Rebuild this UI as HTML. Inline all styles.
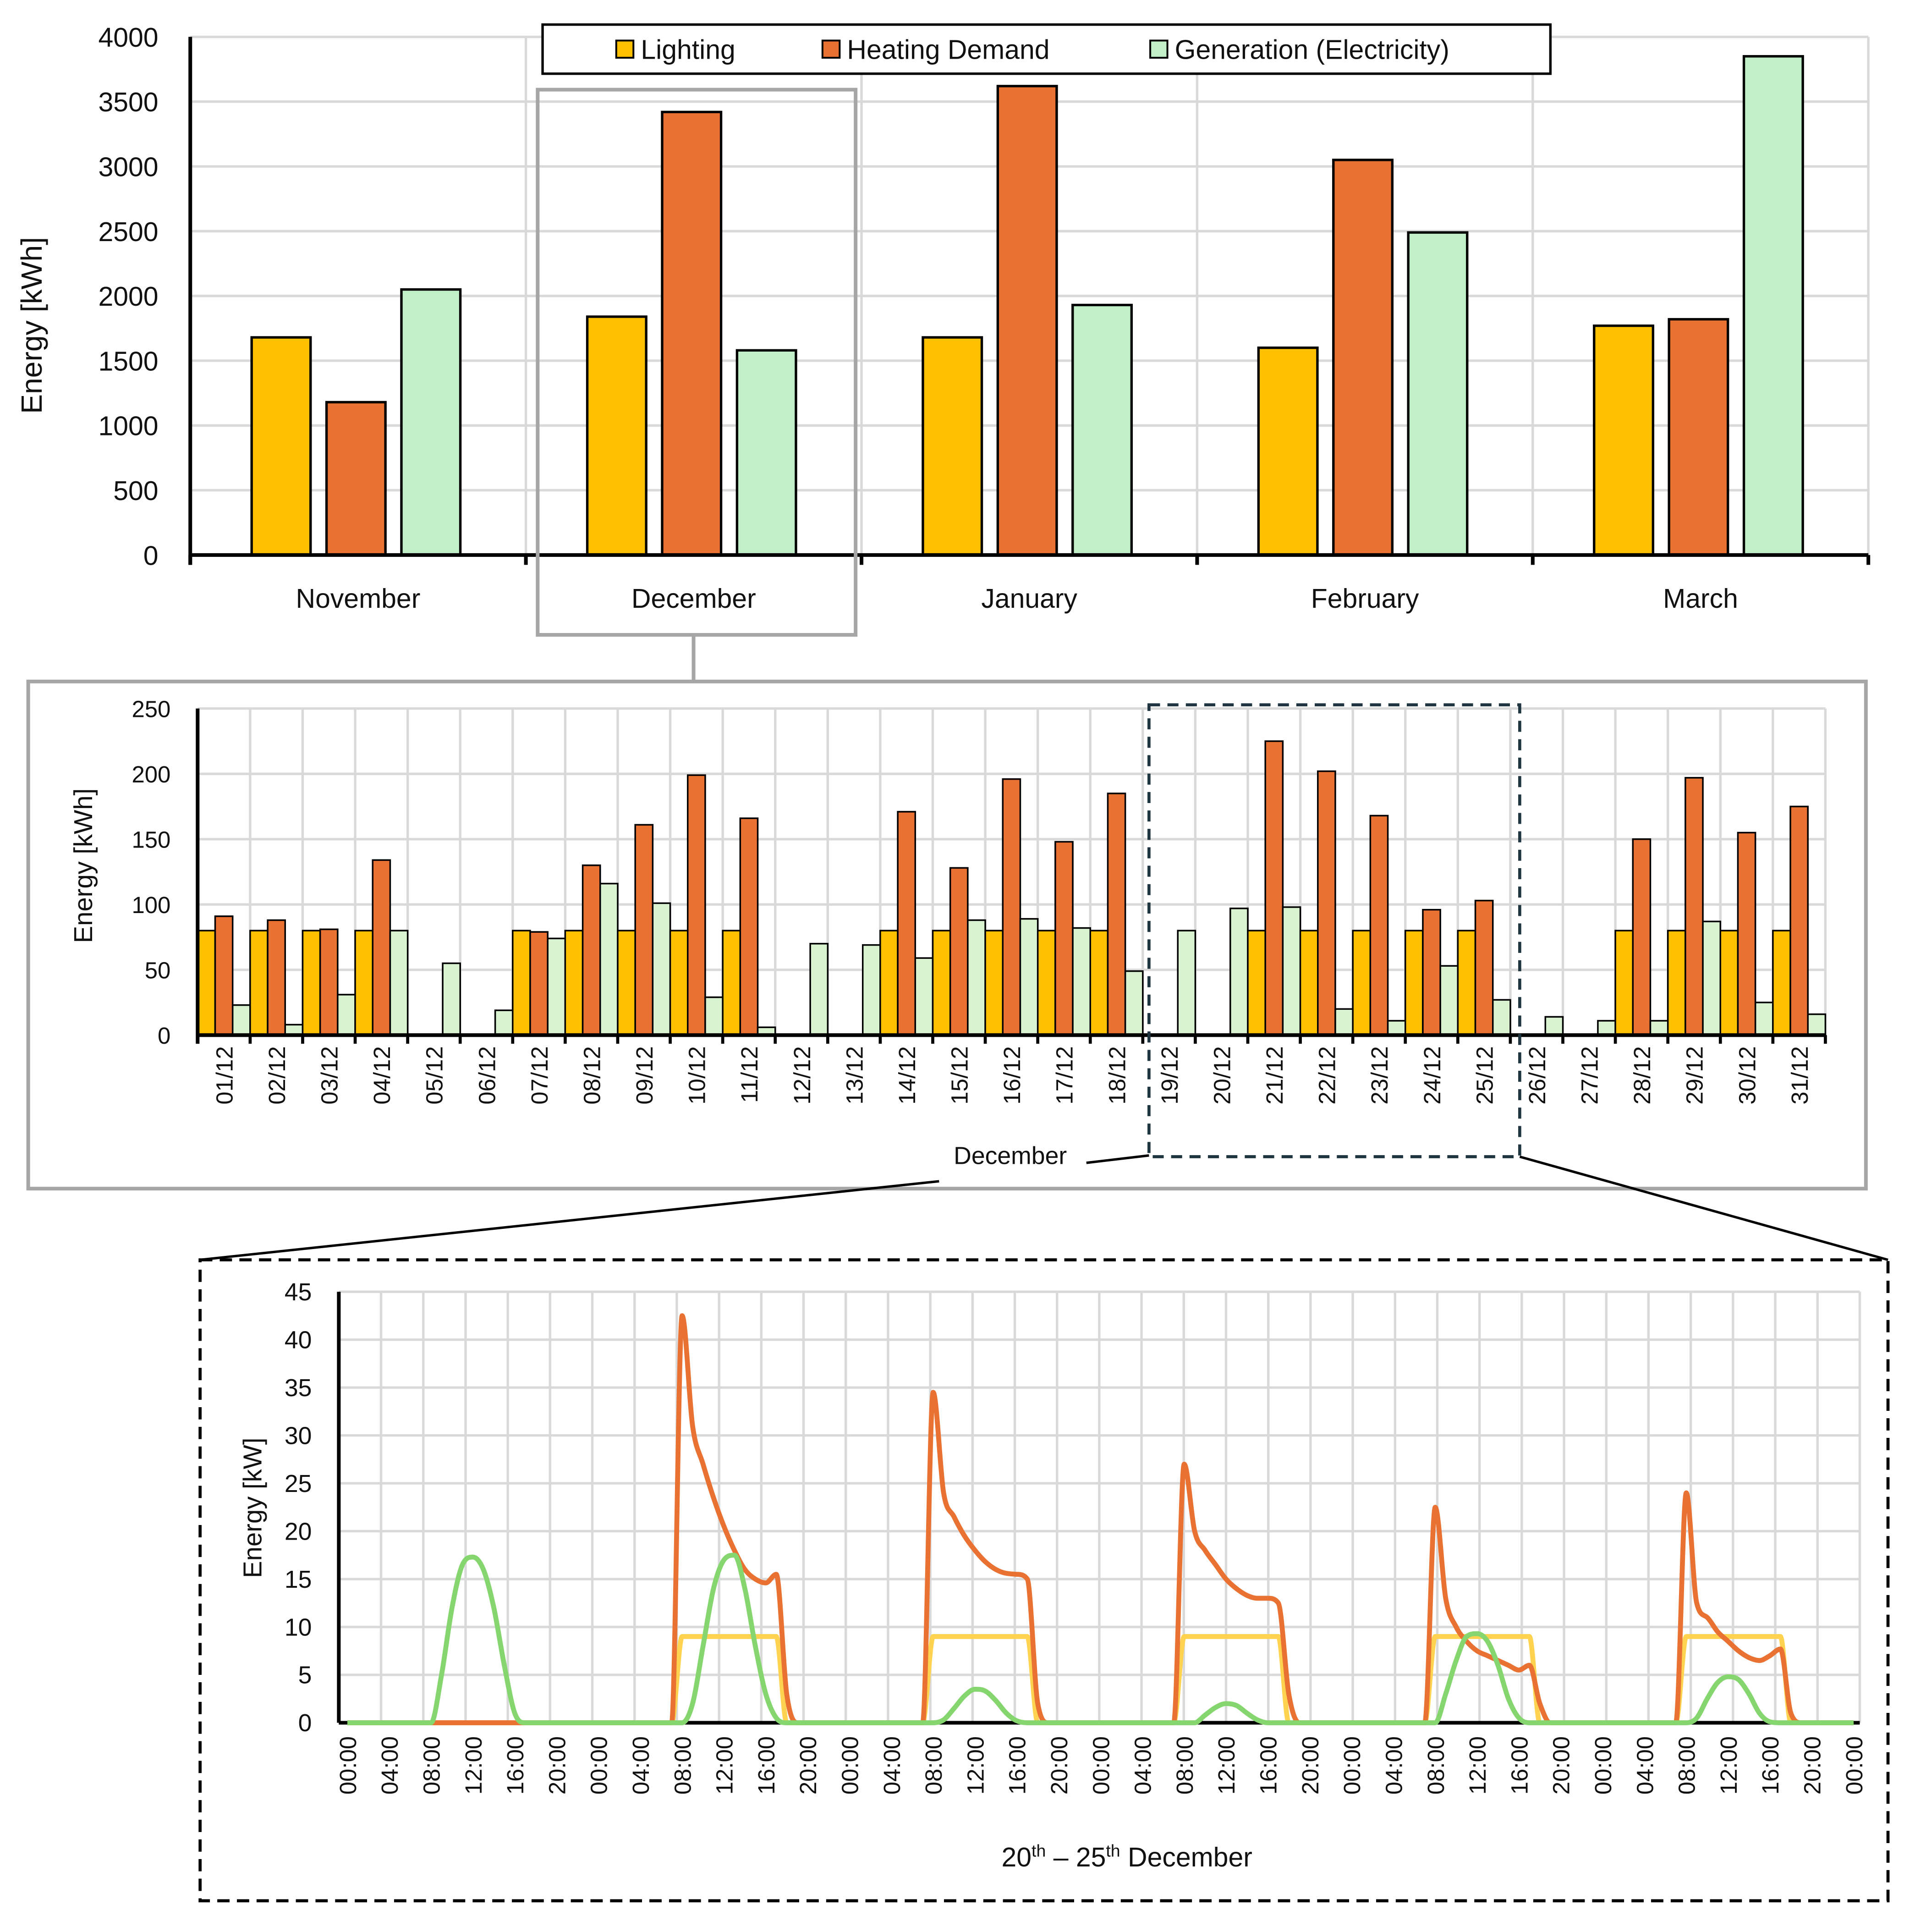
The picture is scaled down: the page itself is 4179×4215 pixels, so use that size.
<!DOCTYPE html>
<html><head><meta charset="utf-8"><style>
html,body{margin:0;padding:0;background:#fff;}
svg{display:block;font-family:"Liberation Sans",sans-serif;}
</style></head><body>
<svg id="s" width="4179" height="4215" viewBox="0 0 1560 1573.4" xmlns="http://www.w3.org/2000/svg"></svg>
<script>
// ---------- Top chart data ----------
const months = ["November","December","January","February","March"];
const monthLighting = [1680,1840,1680,1600,1770];
const monthHeating = [1180,3420,3620,3050,1820];
const monthGeneration = [2050,1580,1930,2490,3850];
const topTicks = [0,500,1000,1500,2000,2500,3000,3500,4000];
// ---------- Middle chart data ----------
const days = ["01/12","02/12","03/12","04/12","05/12","06/12","07/12","08/12","09/12","10/12","11/12","12/12","13/12","14/12","15/12","16/12","17/12","18/12","19/12","20/12","21/12","22/12","23/12","24/12","25/12","26/12","27/12","28/12","29/12","30/12","31/12"];
const dayLighting = [80,80,80,80,0,0,80,80,80,80,80,0,0,80,80,80,80,80,0,0,80,80,80,80,80,0,0,80,80,80,80];
const dayHeating = [91,88,81,134,0,0,79,130,161,199,166,0,0,171,128,196,148,185,0,0,225,202,168,96,103,0,0,150,197,155,175];
const dayGeneration = [23,8,31,80,55,19,74,116,101,29,6,70,69,59,88,89,82,49,80,97,98,20,11,53,27,14,11,11,87,25,16];
const midTicks = [0,50,100,150,200,250];
// ---------- Bottom chart data (hourly, 20th-25th) ----------
const hourLabels = ["00:00","04:00","08:00","12:00","16:00","20:00"];
const bottomTicks = [0,5,10,15,20,25,30,35,40,45];
const genDay1 = [0,0,0,0,0,0,0,0,0,5,12,16.5,17.3,16,12,6,1,0,0,0,0,0,0,0];
const genDay2 = [0,0,0,0,0,0,0,0,0,2,8,14,17,17.5,14,8,3,0.5,0,0,0,0,0,0];
const genDay3 = [0,0,0,0,0,0,0,0,0,0.3,1.5,2.8,3.5,3.3,2.3,1,0.2,0,0,0,0,0,0,0];
const genDay4 = [0,0,0,0,0,0,0,0,0,0,0.8,1.6,2,1.8,1,0.3,0,0,0,0,0,0,0,0];
const genDay5 = [0,0,0,0,0,0,0,0,0,3,6.5,9,9.3,8.5,6,2.5,0.5,0,0,0,0,0,0,0];
const genDay6 = [0,0,0,0,0,0,0,0,0,0.5,2.5,4.2,4.8,4.5,3,1,0.1,0,0,0,0,0,0,0];
const heatDay1 = [0,0,0,0,0,0,0,0,0,0,0,0,0,0,0,0,0,0,0,0,0,0,0,0];
const heatDay2 = [0,0,0,0,0,0,0,0,42.5,31,27,23.5,20.5,18,16,15,14.6,15.5,3,0,0,0,0,0];
const heatDay3 = [0,0,0,0,0,0,0,0,34.5,24,21.5,19.5,18,16.8,16,15.6,15.5,15,2,0,0,0,0,0];
const heatDay4 = [0,0,0,0,0,0,0,0,27,20,18,16.5,15,14,13.3,13,13,12.5,3,0,0,0,0,0];
const heatDay5 = [0,0,0,0,0,0,0,0,22.5,13,10,8.5,7.5,7,6.5,6,5.5,6,2,0,0,0,0,0];
const heatDay6 = [0,0,0,0,0,0,0,0,24,12.5,11,9.5,8.5,7.5,6.8,6.5,7,7.7,1,0,0,0,0,0];
const lightDay1 = [0,0,0,0,0,0,0,0,0,0,0,0,0,0,0,0,0,0,0,0,0,0,0,0];
const lightDayN = [0,0,0,0,0,0,0,0,9,9,9,9,9,9,9,9,9,9,0,0,0,0,0,0];

const NS="http://www.w3.org/2000/svg";
const svg=document.getElementById('s');
function mk(tag,attrs,parent){const e=document.createElementNS(NS,tag);for(const k in attrs)e.setAttribute(k,attrs[k]);(parent||svg).appendChild(e);return e;}
function txt(x,y,s,size,anchor,parent,rot){const t=mk('text',{x:x,y:y,'font-size':size,'text-anchor':anchor||'middle',fill:'#111'},parent);if(rot)t.setAttribute('transform',rot);t.textContent=s;return t;}
const cL='#ffc000',cH='#e97132',cG='#c1f0c8',cG2='#d9f2d0';

// ================= TOP CHART =================
const tg=mk('g',{});


const tX0=155,tX1=1522,tY0=452,tY1=30,tMax=4000;
const ty=v=>tY0-(v/tMax)*(tY0-tY1);
const tcw=(tX1-tX0)/months.length;
topTicks.forEach(v=>{const l=mk('line',{x1:tX0,x2:tX1,y1:ty(v),y2:ty(v),stroke:'#d9d9d9','stroke-width':2},tg);

const t=txt(tX0-26,ty(v)+8,String(v),22,'end',tg);});
for(let i=0;i<=months.length;i++){const x=tX0+i*tcw;const l=mk('line',{x1:x,x2:x,y1:tY1,y2:tY0,stroke:'#d9d9d9','stroke-width':2},tg);
const tk=mk('line',{x1:x,x2:x,y1:tY0,y2:tY0+8,stroke:'#000','stroke-width':3},tg);}
months.forEach((m,i)=>{const x0=tX0+i*tcw;
[[monthLighting,cL,50,'bar-lighting'],[monthHeating,cH,111,'bar-heating'],[monthGeneration,cG,172,'bar-generation']].forEach(([arr,c,off,nm])=>{
const r=mk('rect',{x:x0+off,y:ty(arr[i]),width:48,height:tY0-ty(arr[i]),fill:c,stroke:'#000','stroke-width':2},tg);
});
const t=txt(x0+tcw/2,495,m,22,'middle',tg);});
let ax=mk('line',{x1:tX0,x2:tX0,y1:tY1,y2:tY0+8,stroke:'#000','stroke-width':3},tg);
ax=mk('line',{x1:tX0,x2:tX1,y1:tY0,y2:tY0,stroke:'#000','stroke-width':3},tg);
let yt=txt(34,265,'Energy  [kWh]',24,'middle',tg,'rotate(-90 34 265)');
// legend
const lg=mk('g',{},tg);
mk('rect',{x:442,y:20,width:821,height:40,fill:'#fff',stroke:'#000','stroke-width':2},lg);
[[cL,'Lighting',502],[cH,'Heating Demand',670],[cG,'Generation (Electricity)',937]].forEach(([c,s,x])=>{
const e=mk('g',{},lg);
mk('rect',{x:x,y:33,width:14,height:14,fill:c,stroke:'#000','stroke-width':1.5},e);txt(x+20,48,s,22,'start',e);});
// highlight box
let hb=mk('rect',{x:438,y:73,width:259,height:444,fill:'none',stroke:'#a6a6a6','stroke-width':3});
mk('line',{x1:565,x2:565,y1:517,y2:555,stroke:'#a6a6a6','stroke-width':3});

// ================= MIDDLE CHART =================
const mg=mk('g',{});
let pb=mk('rect',{x:23,y:555,width:1497,height:413,fill:'#fff',stroke:'#a6a6a6','stroke-width':3},mg);
const mX0=161,mX1=1487,mY0=843,mY1=577,mMax=250;
const my=v=>mY0-(v/mMax)*(mY0-mY1);
const mcw=(mX1-mX0)/days.length;
midTicks.forEach(v=>{const l=mk('line',{x1:mX0,x2:mX1,y1:my(v),y2:my(v),stroke:'#d9d9d9','stroke-width':2},mg);
const t=txt(mX0-22,my(v)+7,String(v),19,'end',mg);});
for(let i=0;i<=days.length;i++){const x=mX0+i*mcw;const l=mk('line',{x1:x,x2:x,y1:mY1,y2:mY0,stroke:'#d9d9d9','stroke-width':2},mg);
const tk=mk('line',{x1:x,x2:x,y1:mY0,y2:mY0+7,stroke:'#000','stroke-width':2.5},mg);}
const bw=mcw/3;
days.forEach((d,i)=>{const x0=mX0+i*mcw;
[[dayLighting,cL,'bar-lighting'],[dayHeating,cH,'bar-heating'],[dayGeneration,cG2,'bar-generation']].forEach(([arr,c,nm],k)=>{
if(arr[i]>0){const r=mk('rect',{x:x0+k*bw,y:my(arr[i]),width:bw,height:mY0-my(arr[i]),fill:c,stroke:'#000','stroke-width':1.3},mg);
}});
const cx=x0+mcw/2+7,cy=852;const t=txt(cx,cy,d,19,'end',mg,`rotate(-90 ${cx} ${cy})`);});
ax=mk('line',{x1:mX0,x2:mX0,y1:mY1,y2:mY0+7,stroke:'#000','stroke-width':3},mg);
ax=mk('line',{x1:mX0,x2:mX1,y1:mY0,y2:mY0,stroke:'#000','stroke-width':3},mg);
yt=txt(75,705,'Energy  [kWh]',21,'middle',mg,'rotate(-90 75 705)');
let xt=txt(823,948,'December',20,'middle',mg);
let db=mk('rect',{x:936,y:574,width:302,height:368,fill:'none',stroke:'#1f3540','stroke-width':2.5,'stroke-dasharray':'9 6'});
mk('line',{x1:885,x2:936,y1:947,y2:941,stroke:'#000','stroke-width':2});
mk('line',{x1:765,x2:163,y1:962,y2:1026,stroke:'#000','stroke-width':2});
mk('line',{x1:1238,x2:1538,y1:942,y2:1026,stroke:'#000','stroke-width':2});

// ================= BOTTOM CHART =================
const bg=mk('g',{});
let bb=mk('rect',{x:163,y:1026,width:1375,height:522,fill:'none',stroke:'#000','stroke-width':2.5,'stroke-dasharray':'10 6'},bg);
const bX0=276,bX1=1515,bY0=1403,bY1=1052,bMax=45,nH=144;
const by=v=>bY0-(v/bMax)*(bY0-bY1);
const bx=h=>bX0+7+h*(bX1-bX0-12)/nH;
bottomTicks.forEach(v=>{const l=mk('line',{x1:bX0,x2:bX1,y1:by(v),y2:by(v),stroke:'#d9d9d9','stroke-width':2},bg);
const t=txt(bX0-22,by(v)+7,String(v),20,'end',bg);});
for(let i=0;i<=36;i++){const h=i*4;const x=bX0+i*(bX1-bX0)/36;
if(i>0){const l=mk('line',{x1:x,x2:x,y1:bY1,y2:bY0,stroke:'#d9d9d9','stroke-width':2},bg);}
const cx=bx(h)+7,cy=1414;const t=txt(cx,cy,hourLabels[i%6],19,'end',bg,`rotate(-90 ${cx} ${cy})`);}
ax=mk('line',{x1:bX0,x2:bX0,y1:bY1,y2:bY0,stroke:'#000','stroke-width':3},bg);
ax=mk('line',{x1:bX0,x2:bX1,y1:bY0,y2:bY0,stroke:'#000','stroke-width':3},bg);
function series(days){const a=[].concat(...days);a.push(0);return a;}
const heat=series([heatDay1,heatDay2,heatDay3,heatDay4,heatDay5,heatDay6]);
const light=series([lightDay1,lightDayN,lightDayN,lightDayN,lightDayN,lightDayN]);
const gen=series([genDay1,genDay2,genDay3,genDay4,genDay5,genDay6]);
// monotone cubic interpolation (no overshoot)
function pathOf(arr){const n=arr.length;const xs=arr.map((v,i)=>bx(i)),ys=arr.map(v=>by(v));
const d=[],m=new Array(n).fill(0);for(let i=0;i<n-1;i++)d.push((ys[i+1]-ys[i])/(xs[i+1]-xs[i]));
m[0]=d[0];m[n-1]=d[n-2];for(let i=1;i<n-1;i++){m[i]=(d[i-1]*d[i]<=0)?0:(d[i-1]+d[i])/2;}
for(let i=0;i<n-1;i++){if(d[i]===0){m[i]=0;m[i+1]=0;continue;}const a=m[i]/d[i],b=m[i+1]/d[i],s=a*a+b*b;if(s>9){const t=3/Math.sqrt(s);m[i]=t*a*d[i];m[i+1]=t*b*d[i];}}
let p='M'+xs[0]+','+ys[0];for(let i=0;i<n-1;i++){const h=(xs[i+1]-xs[i])/3;p+=` C${xs[i]+h},${ys[i]+m[i]*h} ${xs[i+1]-h},${ys[i+1]-m[i+1]*h} ${xs[i+1]},${ys[i+1]}`;}return p;}
let s2=mk('path',{d:pathOf(light),fill:'none',stroke:'#ffd34f','stroke-width':4,'stroke-linejoin':'round'},bg);
let s1=mk('path',{d:pathOf(heat),fill:'none',stroke:'#e97132','stroke-width':4,'stroke-linejoin':'round'},bg);
let s3=mk('path',{d:pathOf(gen),fill:'none',stroke:'#86d66f','stroke-width':4,'stroke-linejoin':'round'},bg);
yt=txt(213,1228,'Energy [kW]',21,'middle',bg,'rotate(-90 213 1228)');
const xtt=mk('text',{x:918,y:1520,'font-size':22,'text-anchor':'middle',fill:'#111'},bg);

xtt.innerHTML='20<tspan dy="-8" font-size="14">th</tspan><tspan dy="8"> – 25</tspan><tspan dy="-8" font-size="14">th</tspan><tspan dy="8"> December</tspan>';
</script>
</body></html>
